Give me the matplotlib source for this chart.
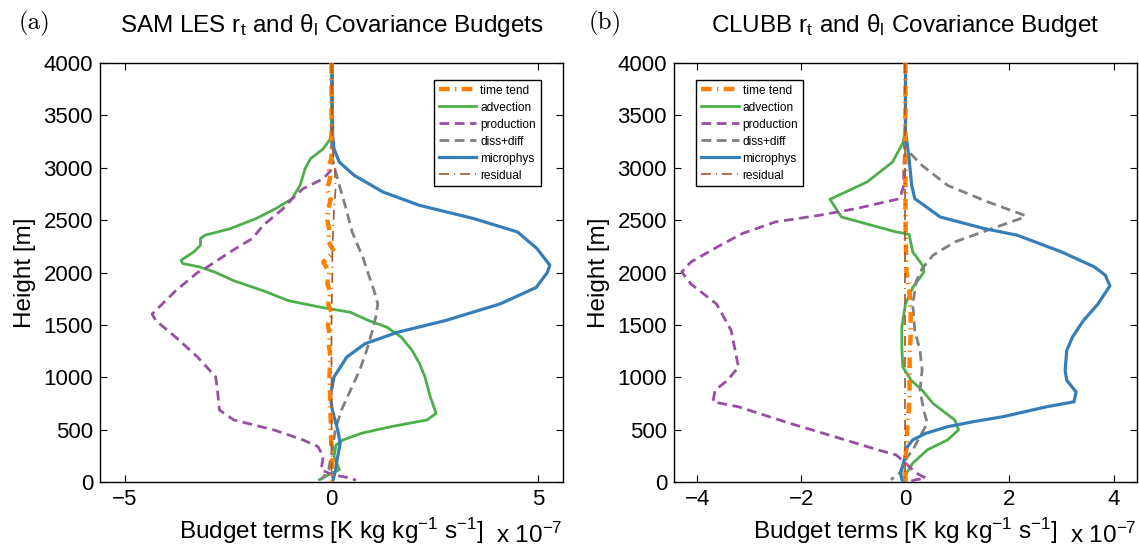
import matplotlib
matplotlib.use("Agg")
import matplotlib.pyplot as plt

plt.rcParams["font.family"] = ["Liberation Sans", "DejaVu Sans"]
plt.rcParams["mathtext.fontset"] = "custom"
plt.rcParams["mathtext.rm"] = "Liberation Sans"
plt.rcParams["mathtext.it"] = "Liberation Sans:italic"
plt.rcParams["mathtext.default"] = "rm"

# ---- (a) SAM LES, values in 1e-7 K kg/kg/s, heights in m ----
mic_a_z = [4000, 3600, 3300, 3181, 3054, 2927, 2768, 2641, 2514, 2387, 2229, 2070, 2000,
           1857, 1699, 1541, 1430, 1320, 1193, 1003, 813, 687, 497, 370, 244, 117, 22, 0]
mic_a_x = [0.02, 0.02, 0.03, 0.06, 0.19, 0.55, 1.25, 2.13, 3.45, 4.5, 4.97, 5.28, 5.22,
           4.95, 4.07, 2.75, 1.6, 0.81, 0.37, 0.06, -0.03, 0.02, 0.15, 0.21, 0.15, 0.1, 0.04, 0.02]

adv_a_z = [4000, 3500, 3300, 3276, 3181, 3086, 2990, 2832, 2768, 2705, 2610, 2514, 2419,
           2356, 2324, 2260, 2197, 2117, 2086, 2054, 2022, 2000, 1921, 1826, 1731, 1668,
           1620, 1541, 1478, 1383, 1256, 1130, 1003, 813, 655, 592, 528, 465, 402, 354,
           244, 117, 70, 22]
adv_a_x = [0.0, 0.0, -0.01, -0.03, -0.2, -0.51, -0.64, -0.76, -0.86, -0.95, -1.35, -1.83, -2.45,
           -3.06, -3.17, -3.17, -3.33, -3.64, -3.6, -3.2, -2.95, -2.8, -2.36, -1.65, -1.04, -0.25,
           0.46, 0.9, 1.34, 1.69, 1.95, 2.13, 2.26, 2.39, 2.53, 2.31, 1.43, 0.72, 0.28, 0.11,
           0.06, 0.19, -0.07, -0.29]

prod_a_z = [4000, 3500, 3100, 2990, 2895, 2800, 2705, 2610, 2451, 2324, 2197, 2038, 2000,
            1826, 1604, 1541, 1383, 1193, 1003, 877, 687, 592, 497, 402, 339, 244, 117, 70, 38, 16]
prod_a_x = [0.0, 0.0, 0.01, 0.02, -0.2, -0.69, -0.95, -1.17, -1.65, -1.92, -2.45, -3.06, -3.24,
            -3.77, -4.34, -4.25, -3.77, -3.24, -2.8, -2.76, -2.71, -2.36, -1.39, -0.69, -0.33,
            -0.2, -0.25, 0.02, 0.46, 0.59]

diss_a_z = [4000, 3500, 3100, 3022, 2832, 2641, 2387, 2133, 1975, 1826, 1699, 1573, 1446,
            1256, 1066, 877, 687, 497, 307, 117, 22]
diss_a_x = [0.0, 0.0, 0.01, 0.06, 0.19, 0.33, 0.5, 0.77, 0.9, 1.03, 1.12, 1.07, 0.99,
            0.85, 0.68, 0.46, 0.24, 0.09, 0.02, -0.07, -0.25]

time_a_z = [4000, 3500, 3100, 3000, 2900, 2800, 2700, 2600, 2500, 2400, 2300, 2200, 2100,
            2000, 1900, 1800, 1700, 1600, 1500, 1400, 1300, 1200, 1000, 800, 600, 400, 200, 0]
time_a_x = [0.0, 0.0, 0.0, -0.07, -0.03, -0.11, -0.02, -0.08, -0.1, -0.05, -0.08, 0.06, -0.2,
            -0.05, -0.1, -0.03, -0.08, 0.02, -0.09, -0.04, -0.06, -0.03, -0.05, -0.03, -0.02,
            -0.01, 0.02, 0.0]

resid_a_z = [4000, 3200, 3000, 2800, 2600, 2400, 2200, 2000, 1500, 1000, 500, 0]
resid_a_x = [0.0, 0.02, 0.08, 0.1, 0.06, 0.04, 0.02, 0.02, 0.0, 0.0, 0.0, 0.0]

# ---- (b) CLUBB ----
mic_b_z = [4000, 3300, 3276, 3086, 2832, 2705, 2530, 2419, 2356, 2197, 2054, 1975, 1873,
           1699, 1541, 1383, 1256, 1066, 971, 861, 766, 718, 623, 576, 528, 465, 402, 339,
           180, 85, 22, 0]
mic_b_x = [0.0, 0.0, 0.02, 0.07, 0.12, 0.18, 0.67, 1.52, 2.15, 3.0, 3.63, 3.84, 3.93,
           3.7, 3.42, 3.21, 3.1, 3.07, 3.1, 3.28, 3.24, 2.71, 1.87, 1.3, 0.81, 0.39, 0.14, 0.04,
           -0.04, -0.09, -0.07, 0.0]

adv_b_z = [4000, 3400, 3245, 3054, 2864, 2699, 2530, 2390, 2365, 2197, 2054, 2000, 1857,
           1699, 1478, 1288, 1098, 971, 877, 750, 592, 497, 402, 307, 180, 70, 22, 0]
adv_b_x = [0.0, 0.0, -0.04, -0.25, -0.74, -1.45, -1.23, -0.2, 0.07, 0.14, 0.35, 0.35, 0.14,
           0.0, -0.07, -0.07, -0.05, 0.11, 0.32, 0.53, 0.95, 1.02, 0.81, 0.42, 0.14, 0.0, -0.03, 0.0]

prod_b_z = [4000, 3500, 2816, 2705, 2610, 2546, 2483, 2371, 2260, 2102, 2006, 1889, 1699,
            1446, 1098, 971, 877, 766, 718, 560, 434, 307, 259, 180, 85, 38, 22, 0]
prod_b_x = [0.0, 0.0, -0.04, -0.11, -0.95, -1.66, -2.5, -3.14, -3.56, -4.12, -4.3, -4.12, -3.63,
            -3.35, -3.21, -3.42, -3.66, -3.7, -3.21, -2.22, -1.37, -0.53, -0.18, 0.0, 0.21, 0.39,
            0.2, 0.05]

diss_b_z = [4000, 3300, 3213, 3149, 3022, 2832, 2673, 2546, 2530, 2419, 2292, 2165, 2038,
            1921, 1699, 1446, 1256, 1066, 877, 687, 560, 434, 307, 212, 85, 22]
diss_b_x = [0.0, 0.0, 0.0, 0.07, 0.32, 0.81, 1.59, 2.29, 2.3, 1.66, 0.95, 0.53, 0.32,
            0.21, 0.14, 0.18, 0.28, 0.32, 0.28, 0.35, 0.42, 0.28, 0.14, 0.0, -0.11, -0.28]

time_b_z = [4000, 3500, 3000, 2500, 2000, 1800, 1600, 1400, 1200, 1000, 800, 600, 400, 200, 0]
time_b_x = [0.0, 0.0, 0.0, 0.0, 0.02, 0.08, 0.1, 0.1, 0.08, 0.08, 0.08, 0.05, 0.02, 0.0, 0.0]

resid_b_z = [4000, 3000, 2000, 1000, 0]
resid_b_x = [0.0, 0.0, 0.0, 0.0, 0.0]

ORANGE = "#ff7f00"
GREEN = "#4daf4a"
PURPLE = "#984ea3"
GRAY = "#808080"
BLUE = "#377eb8"
BROWN = "#a65628"


def draw_panel(ax, curves, xlim, xticks, legend_loc, legend_anchor):
    tz, tx, az, axx, pz, px, dz, dx, mz, mx, rz, rx = curves
    ax.plot(tx, tz, color=ORANGE, lw=3.2, dashes=(2.4, 1.2, 0.3, 1.2), label="time tend", zorder=5)
    ax.plot(axx, az, color=GREEN, lw=2.0, label="advection", zorder=3)
    ax.plot(px, pz, color=PURPLE, lw=2.0, dashes=(3.5, 2), label="production", zorder=3)
    ax.plot(dx, dz, color=GRAY, lw=2.0, dashes=(3.5, 2), label="diss+diff", zorder=3)
    ax.plot(mx, mz, color=BLUE, lw=2.3, label="microphys", zorder=4)
    ax.plot(rx, rz, color=BROWN, lw=1.2, dashes=(6, 3, 0.6, 3), label="residual", zorder=6)

    ax.set_xlim(*xlim)
    ax.set_ylim(0, 4000)
    ax.set_xticks(xticks)
    ax.set_yticks(range(0, 4001, 500))
    ax.tick_params(direction="in", top=True, right=True, length=5, width=0.8,
                   labelsize=16, pad=5)
    for s in ax.spines.values():
        s.set_linewidth(1.0)
    ax.set_ylabel("Height [m]", fontsize=17.5, labelpad=5)
    ax.set_xlabel("Budget terms [K kg kg$^{-1}$ s$^{-1}$]", fontsize=17.5, labelpad=4)
    ax.text(1.0, -0.1456, "x 10$^{-7}$", transform=ax.transAxes, ha="right", va="baseline",
            fontsize=17.5)
    leg = ax.legend(loc=legend_loc, bbox_to_anchor=legend_anchor, borderaxespad=0,
                    fontsize=8.6, handlelength=3.15, handletextpad=0.33, labelspacing=0.42,
                    borderpad=0.4, fancybox=False, framealpha=1, edgecolor="black")
    leg.get_frame().set_linewidth(1.0)


fig = plt.figure(figsize=(11.39, 5.48), dpi=100)
ax1 = fig.add_axes([0.0878, 0.1204, 0.4065, 0.7646])
ax2 = fig.add_axes([0.5917, 0.1204, 0.4065, 0.7646])

draw_panel(ax1, (time_a_z, time_a_x, adv_a_z, adv_a_x, prod_a_z, prod_a_x,
                 diss_a_z, diss_a_x, mic_a_z, mic_a_x, resid_a_z, resid_a_x),
           (-5.6, 5.6), [-5, 0, 5], "upper right", (0.952, 0.96))
draw_panel(ax2, (time_b_z, time_b_x, adv_b_z, adv_b_x, prod_b_z, prod_b_x,
                 diss_b_z, diss_b_x, mic_b_z, mic_b_x, resid_b_z, resid_b_x),
           (-4.45, 4.45), [-4, -2, 0, 2, 4], "upper left", (0.048, 0.96))

for ax, title in [(ax1, "SAM LES r$_\\mathrm{t}$ and θ$_\\mathrm{l}$ Covariance Budgets"),
                  (ax2, "CLUBB r$_\\mathrm{t}$ and θ$_\\mathrm{l}$ Covariance Budget")]:
    pos = ax.get_position()
    fig.text((pos.x0 + pos.x1) / 2, 0.9416, title, fontsize=17.5, ha="center", va="baseline")

fig.text(0.016, 0.947, "(a)", family="cmr10", fontsize=18, va="baseline")
fig.text(0.517, 0.947, "(b)", family="cmr10", fontsize=18, va="baseline")

fig.savefig("out.png", dpi=100)
